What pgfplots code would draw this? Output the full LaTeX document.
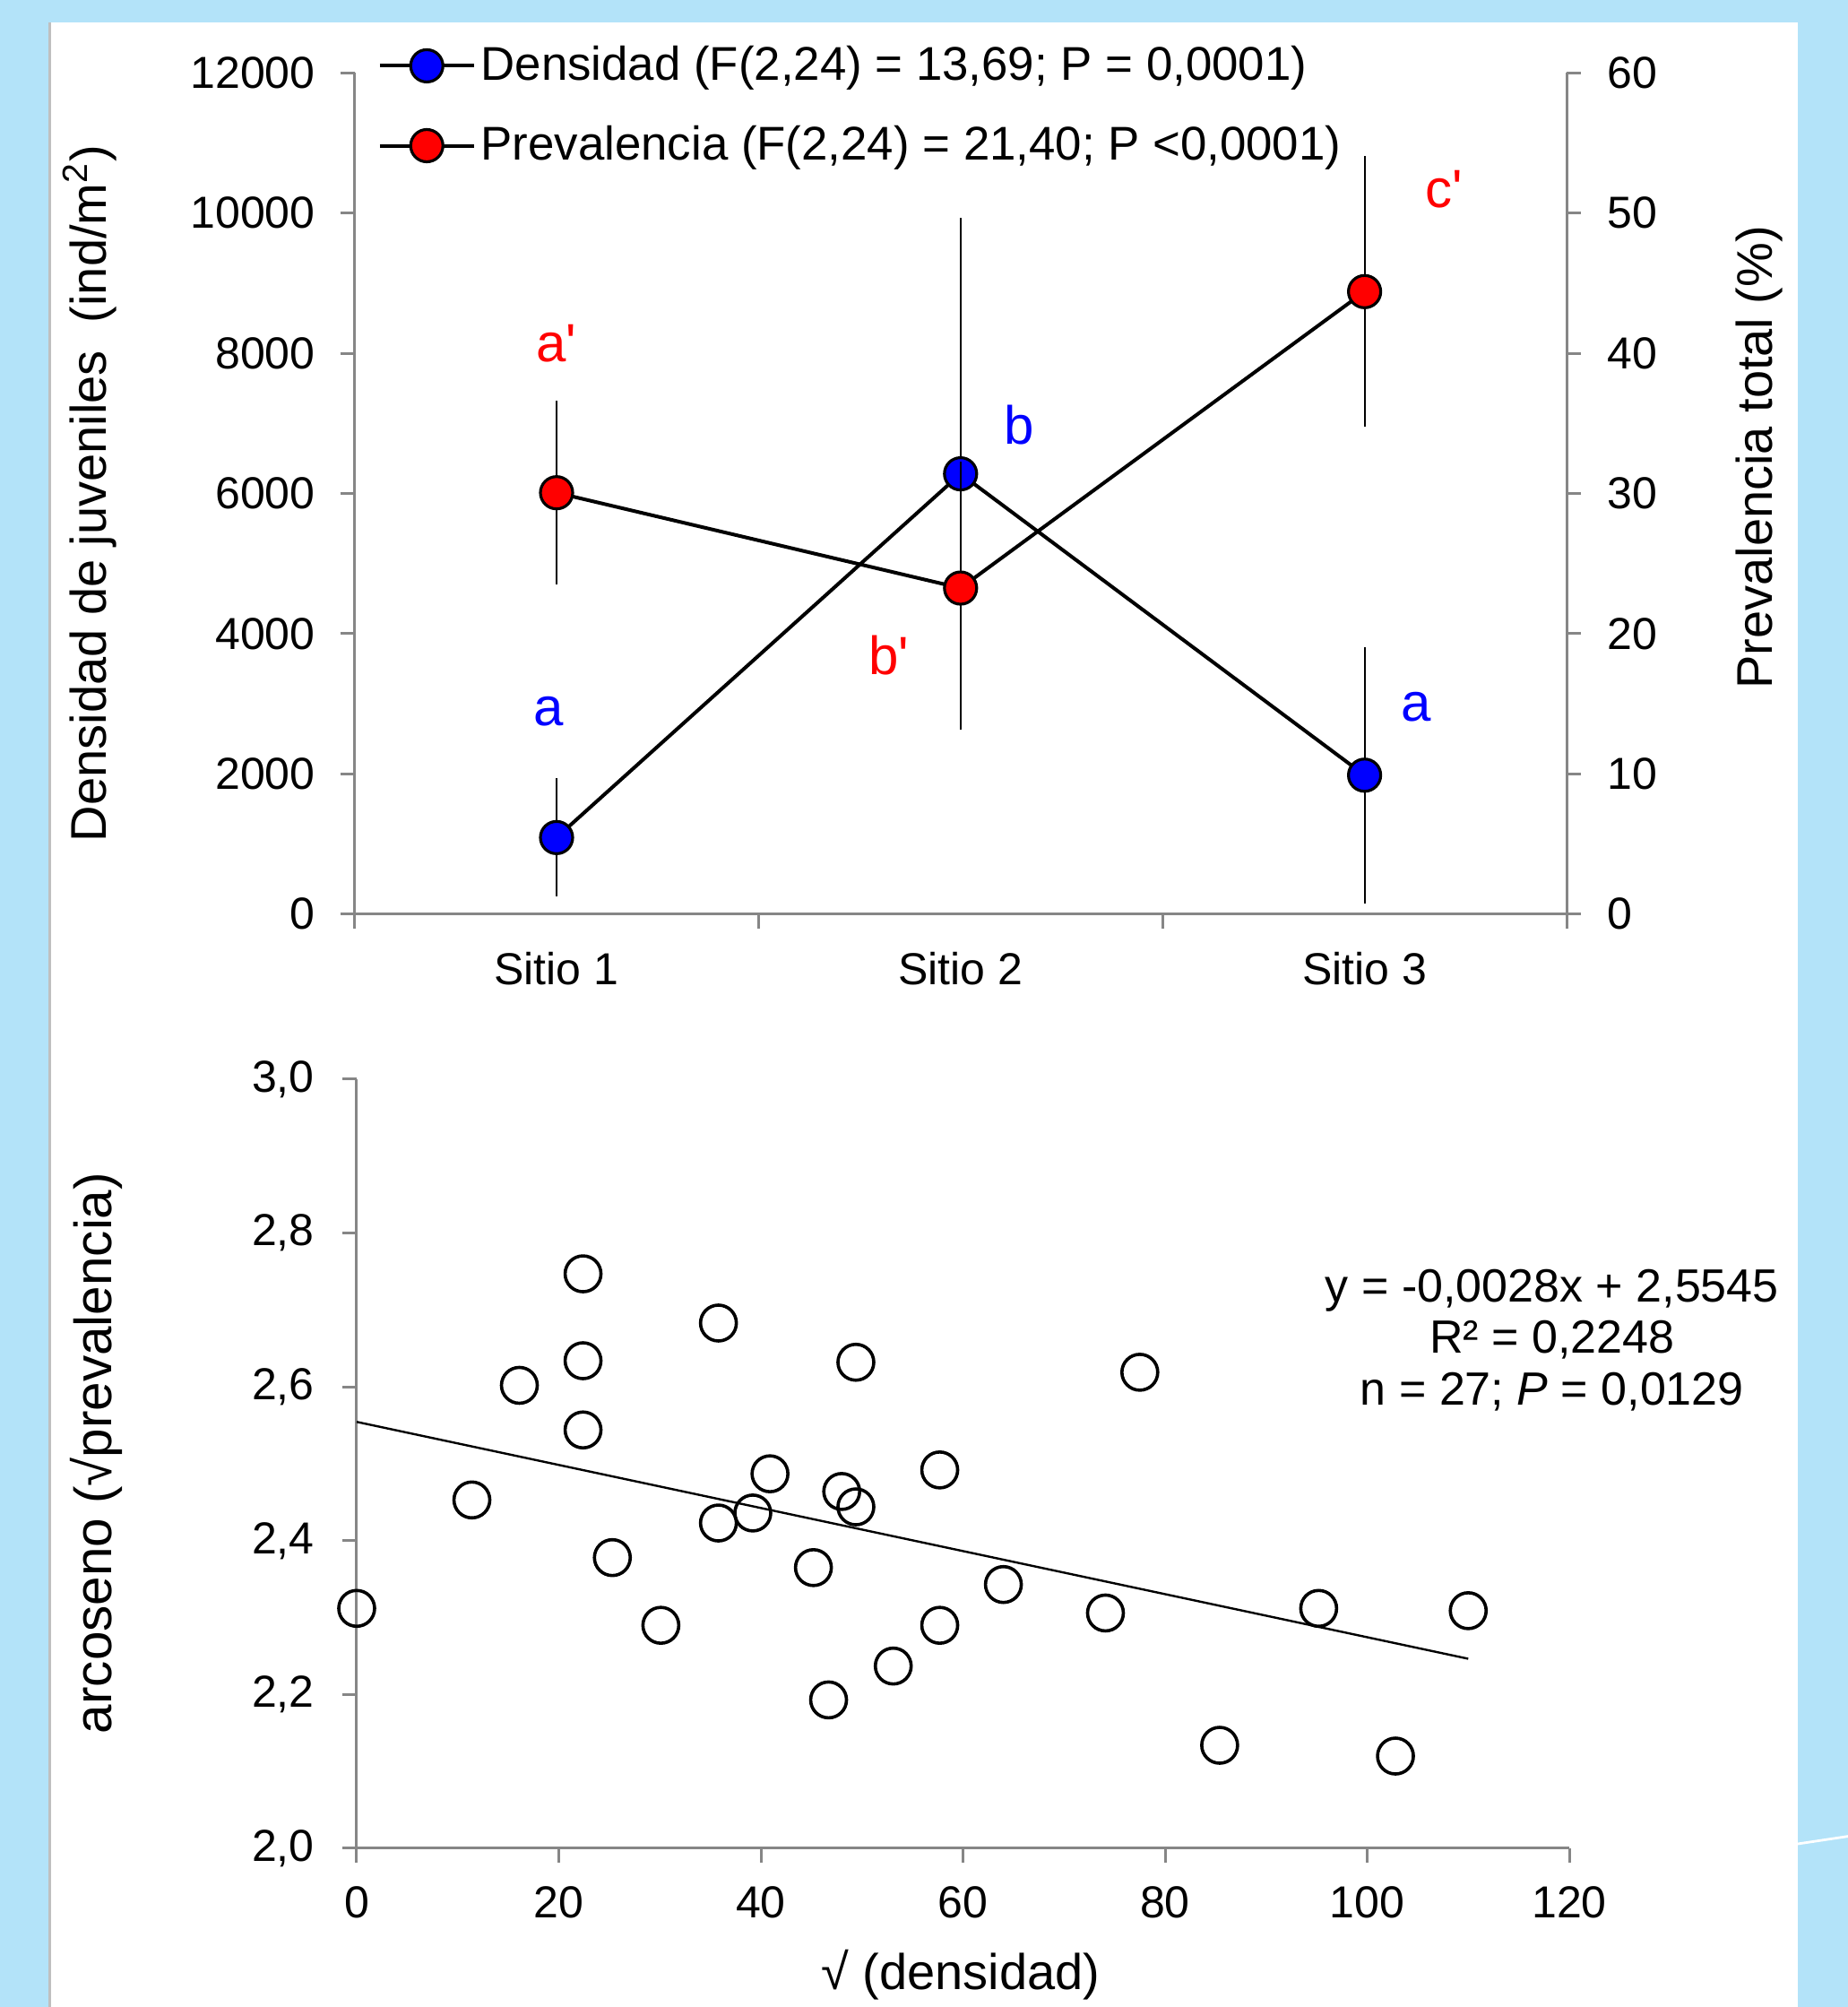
\documentclass[border=0pt]{standalone}
\usepackage{fontspec}
\setmainfont{Liberation Sans}
\usepackage{pgfplots}
\usepackage{pgfplotstable}
\pgfplotsset{compat=1.18}
\definecolor{bgblue}{HTML}{B3E3F9}
\definecolor{axgray}{HTML}{868686}

\pgfplotstableread{
x y e
1 1090 845
2 6280 3650
3 1980 1830
}\densidad
\pgfplotstableread{
x y e
1 30.05 6.55
2 23.25 9.0
3 44.4 9.65
}\prevalencia
\pgfplotstableread{
x y
0 2.312
11.4 2.453
16.1 2.602
22.4 2.747
22.4 2.634
22.4 2.544
25.3 2.378
30.1 2.290
35.8 2.683
35.8 2.423
39.2 2.436
40.9 2.487
45.2 2.365
46.7 2.193
48.0 2.464
49.4 2.444
49.4 2.632
53.1 2.237
57.7 2.492
57.7 2.290
64.0 2.343
74.1 2.306
77.5 2.619
85.4 2.134
95.2 2.312
102.8 2.120
110.0 2.309
}\scatterdata

\pgfplotsset{
  common/.style={
    scale only axis, width=338.1pt, height=234.55pt,
    at={(98.9pt,304.85pt)}, anchor=south west,
    xmin=0.5, xmax=3.5,
    axis line style={axgray, line width=0.75pt},
    tick style={axgray, line width=0.75pt},
    major tick length=4pt,
    ticklabel style={font=\fontsize{12.5}{14}\selectfont},
    /pgf/number format/assume math mode=true,
    /pgf/number format/1000 sep={},
    scaled y ticks=false,
    clip=false,
  },
  dens/.style={black, line width=1pt, mark=*, mark size=4.5pt,
    mark options={fill=blue, draw=black, line width=0.8pt}},
  prev/.style={black, line width=1pt, mark=*, mark size=4.5pt,
    mark options={fill=red, draw=black, line width=0.8pt}},
}

\begin{document}
\begin{tikzpicture}
\useasboundingbox (0,0) rectangle (515.5pt,559.75pt);
\fill[bgblue] (0,0) rectangle (515.5pt,559.75pt);
\fill[white] (13.6pt,0) rectangle (501.5pt,553.5pt);
\draw[color=gray!50, line width=0.6pt] (13.9pt,0) -- (13.9pt,553.5pt);
\draw[white, line width=0.7pt] (501.5pt,45.5pt) -- (515.5pt,47.6pt);

% ---------- top chart: density ----------
\begin{axis}[common,
  axis x line*=bottom, axis y line*=left, tick align=outside,
  ymin=0, ymax=12000, ytick={0,2000,4000,6000,8000,10000,12000},
  xtick={0.5,1.5,2.5,3.5}, xticklabels={Sitio 1,Sitio 2,Sitio 3},
  x tick label as interval,
  yticklabel style={xshift=-3.5pt},
  xticklabel style={yshift=-3.2pt},
  ylabel={Densidad de juveniles \ (ind/m\textsuperscript{2})},
  ylabel style={font=\fontsize{14}{16}\selectfont,
    at={(axis description cs:-0.2186,0.5)}, anchor=center},
]
\addplot[dens, error bars/.cd, y dir=both, y explicit, error mark=none,
  error bar style={black, line width=0.5pt}]
  table[x=x, y=y, y error=e] {\densidad};
\node[text=blue, font=\fontsize{15}{18}\selectfont] at (axis cs:0.98,2886) {a};
\node[text=blue, font=\fontsize{15}{18}\selectfont] at (axis cs:2.146,6977) {b};
\node[text=blue, font=\fontsize{15}{18}\selectfont] at (axis cs:3.127,2959) {a};
\node[text=red, font=\fontsize{15}{18}\selectfont] at (axis cs:1.0,8146) {a\textquotesingle};
\node[text=red, font=\fontsize{15}{18}\selectfont] at (axis cs:1.823,3689) {b\textquotesingle};
\node[text=red, font=\fontsize{15}{18}\selectfont] at (axis cs:3.196,10338) {c\textquotesingle};
\end{axis}

% ---------- top chart: prevalence ----------
\begin{axis}[common,
  axis x line=none, axis y line*=right, tick align=outside,
  ymin=0, ymax=60, ytick={0,10,20,30,40,50,60},
  yticklabel style={xshift=3.9pt},
  ylabel={Prevalencia total (\%)},
  ylabel style={font=\fontsize{14}{16}\selectfont,
    at={(axis description cs:1.159,0.543)}, anchor=center},
  legend style={at={(axis description cs:0.0188,0.961)}, anchor=west,
    draw=none, fill=none, inner sep=0pt, row sep=8.2pt,
    font=\fontsize{13.2}{15}\selectfont, nodes={inner sep=1.5pt}},
  legend cell align=left,
  legend image code/.code={\draw[mark repeat=2,mark phase=2]
    plot coordinates {(0pt,0pt)(13.1pt,0pt)(26.2pt,0pt)};},
]
\addlegendimage{dens}
\addlegendentry{Densidad (F(2,24) = 13,69; P = 0,0001)}
\addplot[prev, error bars/.cd, y dir=both, y explicit, error mark=none,
  error bar style={black, line width=0.5pt}]
  table[x=x, y=y, y error=e] {\prevalencia};
\addlegendentry{Prevalencia (F(2,24) = 21,40; P <0,0001)}
\end{axis}

% ---------- bottom chart ----------
\begin{axis}[
  scale only axis, width=338.25pt, height=214.5pt,
  at={(99.5pt,44.25pt)}, anchor=south west,
  xmin=0, xmax=120, ymin=2, ymax=3,
  axis x line*=bottom, axis y line*=left, tick align=outside,
  axis line style={axgray, line width=0.75pt},
  tick style={axgray, line width=0.75pt},
  major tick length=4pt,
  xtick={0,20,40,60,80,100,120}, ytick={2,2.2,2.4,2.6,2.8,3},
  ticklabel style={font=\fontsize{12.5}{14}\selectfont},
  /pgf/number format/assume math mode=true,
  yticklabel style={xshift=-4.3pt, /pgf/number format/.cd, fixed, fixed zerofill, precision=1, use comma},
  xticklabel style={yshift=-3.2pt},
  xlabel={√ (densidad)},
  ylabel={arcoseno (√prevalencia)},
  xlabel style={font=\fontsize{14}{16}\selectfont,
    at={(axis description cs:0.498,-0.164)}, anchor=center},
  ylabel style={font=\fontsize{14.6}{16}\selectfont,
    at={(axis description cs:-0.215,0.514)}, anchor=center},
  clip=false,
]
\addplot[only marks, mark=o, mark size=5pt, mark options={black, line width=0.9pt}]
  table[x=x, y=y] {\scatterdata};
\addplot[black, line width=0.6pt] coordinates {(0,2.5545) (110,2.2465)};
\node[align=center, font=\fontsize{13}{14.4}\selectfont] at (axis cs:118.3,2.661)
  {y = -0,0028x + 2,5545\\R² = 0,2248\\n = 27; \textit{P} = 0,0129};
\end{axis}
\end{tikzpicture}
\end{document}
